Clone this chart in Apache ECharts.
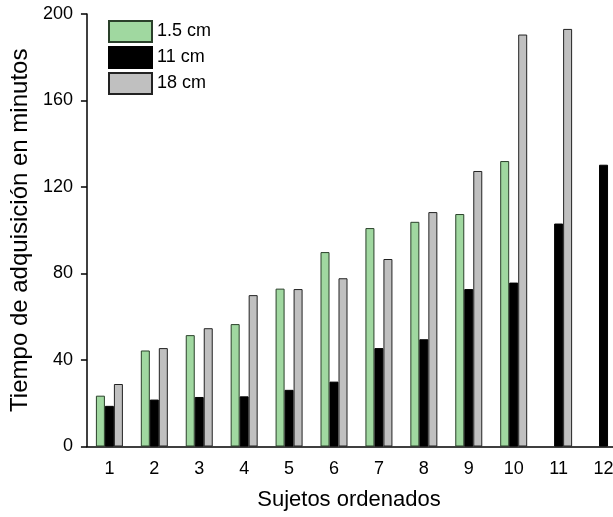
<!DOCTYPE html>
<html>
<head>
<meta charset="utf-8">
<script src="https://cdn.jsdelivr.net/npm/echarts@6/dist/echarts.min.js"></script>
<style>html,body{margin:0;padding:0;background:#fff;overflow:hidden}#c{width:627px;height:517px}</style>
</head>
<body>
<div id="c"></div>
<script>
var categories = ['1','2','3','4','5','6','7','8','9','10','11','12'];
var seriesNames = ['1.5 cm','11 cm','18 cm'];
var green = [23.5, 44.4, 51.5, 56.6, 73, 89.9, 101, 103.9, 107.5, 132, null, null];
var black = [18.8, 21.7, 22.9, 23.2, 26.2, 30, 45.5, 49.6, 72.8, 75.8, 103.1, 130.3];
var gray = [28.9, 45.5, 54.7, 70, 72.8, 77.8, 86.7, 108.4, 127.4, 190.5, 193.1, null];
var yTicks = [0, 40, 80, 120, 160, 200];

var font = 'Liberation Sans, Arial, sans-serif';
var chart = echarts.init(document.getElementById('c'), null, {renderer:'canvas'});
function bar(name, data, color, border) {
  return {
    name: name, type: 'bar', data: data, barWidth: 9, barGap: '0%',
    itemStyle: {color: color, borderColor: border, borderWidth: 1},
    emphasis: {disabled: true}
  };
}
chart.setOption({
  animation: false,
  backgroundColor: '#fff',
  grid: {left: 84, top: 14, width: 542, height: 432.5, containLabel: false},
  legend: {
    left: 108, top: 20, padding: 0, orient: 'vertical', icon: 'rect',
    itemWidth: 43, itemHeight: 21, itemGap: 3,
    textStyle: {fontFamily: font, fontSize: 18, color: '#000'},
    data: seriesNames
  },
  xAxis: {
    type: 'category', data: categories,
    name: 'Sujetos ordenados', nameLocation: 'middle', nameGap: 42,
    nameTextStyle: {fontFamily: font, fontSize: 22, color: '#000', padding: [0, 15, 0, 0]},
    axisLine: {lineStyle: {color: '#000', width: 1.5}},
    axisTick: {alignWithLabel: true, length: 6, lineStyle: {color: '#000', width: 1.5}},
    axisLabel: {fontFamily: font, fontSize: 18, color: '#000', margin: 14},
    splitLine: {show: false}
  },
  yAxis: {
    type: 'value', min: 0, max: 200, interval: 40,
    name: 'Tiempo de adquisición en minutos', nameLocation: 'middle', nameGap: 46,
    nameTextStyle: {fontFamily: font, fontSize: 24, color: '#000'},
    axisLine: {show: true, lineStyle: {color: '#000', width: 1.5}},
    axisTick: {show: true, length: 6, lineStyle: {color: '#000', width: 1.5}},
    axisLabel: {fontFamily: font, fontSize: 18, color: '#000', margin: 14,
      formatter: function(v){ return yTicks.indexOf(v) >= 0 ? String(v) : ''; }},
    splitLine: {show: false}
  },
  series: [
    bar(seriesNames[0], green, '#a0d8a0', '#2a402a'),
    bar(seriesNames[1], black, '#000000', '#000000'),
    bar(seriesNames[2], gray, '#c0c0c0', '#222222')
  ]
});
</script>
</body>
</html>
